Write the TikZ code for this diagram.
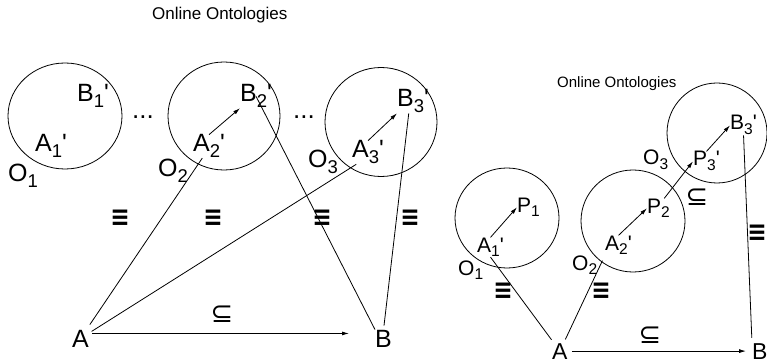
\documentclass[tikz,border=0pt]{standalone}
\usepackage{fontspec}
\setmainfont{Liberation Sans}
\newfontfamily\symfont{DejaVu Sans}
\usetikzlibrary{arrows.meta,shapes.geometric}
\newcommand{\lo}[1]{\raisebox{-0.45ex}{\scalebox{0.74}{#1}}}
\newcommand{\prm}{\textquotesingle}
\newcommand{\eqvs}{\scalebox{1.45}[1.75]{≡}}
\tikzset{
  onto/.style={draw,ellipse,inner sep=0pt,line width=0.8pt},
  lbl/.style={anchor=base west,inner sep=0pt,font=\fontsize{25}{25}\selectfont},
  lbls/.style={anchor=base west,inner sep=0pt,font=\fontsize{21}{21}\selectfont},
  ttl/.style={anchor=base west,inner sep=0pt},
  eqv/.style={inner sep=0pt,font=\symfont\bfseries\fontsize{16}{16}\selectfont},
  incl/.style={inner sep=0pt,font=\symfont\fontsize{27}{27}\selectfont},
  ln/.style={line width=0.8pt},
  arr/.style={-{Latex[length=7pt,width=4pt]},line width=0.8pt}
}
\begin{document}
\begin{tikzpicture}[x=1pt,y=-1pt]
  \useasboundingbox (0,0) rectangle (767,363);
  % left: matching through several ontologies
  \node[ttl,font=\fontsize{17}{17}\selectfont] (ttlL) at (152,20) {Online Ontologies};
  \node[onto,minimum width=114pt,minimum height=106pt] (o1) at (65,116) {};
  \node[onto,minimum width=112pt,minimum height=108pt] (o2) at (224,116) {};
  \node[onto,minimum width=112pt,minimum height=109pt] (o3) at (381,122) {};
  \node[lbl] (b1) at (77,102) {B\lo{1}\prm};
  \node[lbl] (a1) at (35,152) {A\lo{1}\prm};
  \node[lbl] (n1) at (8,182) {O\lo{1}};
  \node[lbl] (b2) at (240,102) {B\lo{2}\prm};
  \node[lbl] (a2) at (193,152) {A\lo{2}\prm};
  \node[lbl] (n2) at (158,177) {O\lo{2}};
  \node[lbl] (b3) at (397,107) {B\lo{3}\prm};
  \node[lbl] (a3) at (352,158) {A\lo{3}\prm};
  \node[lbl] (n3) at (308,168) {O\lo{3}};
  \node[ttl,font=\fontsize{26}{26}\selectfont] (d1) at (132,119) {...};
  \node[ttl,font=\fontsize{26}{26}\selectfont] (d2) at (293,119) {...};
  \node[lbl] (a) at (72,347) {A};
  \node[lbl] (b) at (375,347) {B};
  \node[eqv] (e1) at (120,218) {\eqvs};
  \node[eqv] (e2) at (213,218) {\eqvs};
  \node[eqv] (e3) at (322,218) {\eqvs};
  \node[eqv] (e4) at (410,218) {\eqvs};
  \node[incl] (s1) at (222,314) {⊆};
  \draw[arr] (a2.north) -- (b2.south west);
  \draw[arr] (a3.north) -- (b3.south west);
  \draw[ln,shorten <=6pt] (a) -- (a2.240);
  \draw[ln,shorten <=3pt] (a) -- (a3.225);
  \draw[ln] (b.north west) -- (b2.center);
  \draw[ln,shorten <=4pt] (b.north) -- (b3.250);
  \draw[arr,shorten <=3pt,shorten >=26pt] (a.30) -- (b.150);
  % right: composed relations
  \node[ttl,font=\fontsize{15}{15}\selectfont] (ttlR) at (557,88) {Online Ontologies};
  \node[onto,minimum width=104pt,minimum height=100pt] (r1) at (507,218) {};
  \node[onto,minimum width=104pt,minimum height=102pt] (r2) at (633,221) {};
  \node[onto,minimum width=100pt,minimum height=100pt] (r3) at (717,133) {};
  \node[lbls] (ra1) at (477,252) {A\lo{1}\prm};
  \node[lbls] (p1) at (517,212) {P\lo{1}};
  \node[lbls] (m1) at (458,275) {O\lo{1}};
  \node[lbls] (ra2) at (605,250) {A\lo{2}\prm};
  \node[lbls] (p2) at (647,213) {P\lo{2}};
  \node[lbls] (m2) at (572,270) {O\lo{2}};
  \node[lbls] (p3) at (693,166) {P\lo{3}\prm};
  \node[lbls] (rb3) at (730,130) {B\lo{3}\prm};
  \node[lbls] (m3) at (643,165) {O\lo{3}};
  \node[lbl,font=\fontsize{23}{23}\selectfont] (ra) at (552,359) {A};
  \node[lbl,font=\fontsize{23}{23}\selectfont] (rb) at (752,359) {B};
  \node[eqv] (f1) at (503,291) {\eqvs};
  \node[eqv] (f2) at (601,291) {\eqvs};
  \node[eqv] (f3) at (757,233) {\eqvs};
  \node[incl] (t1) at (697,197) {⊆};
  \node[incl] (t2) at (650,335) {⊆};
  \draw[arr] (ra1.north) -- (p1.west);
  \draw[arr] (ra2.north) -- (p2.west);
  \draw[arr] (p2.60) -- (p3.west);
  \draw[arr] (p3.north) -- (rb3.west);
  \draw[ln,shorten <=4pt] (ra) -- (ra1.south);
  \draw[ln,shorten <=4pt,shorten >=6pt] (ra) -- (ra2.south west);
  \draw[ln,shorten <=5pt] (rb.north west) -- (rb3.south);
  \draw[arr,shorten <=4pt,shorten >=6pt] (ra.east) -- (rb.west);
\end{tikzpicture}
\end{document}
